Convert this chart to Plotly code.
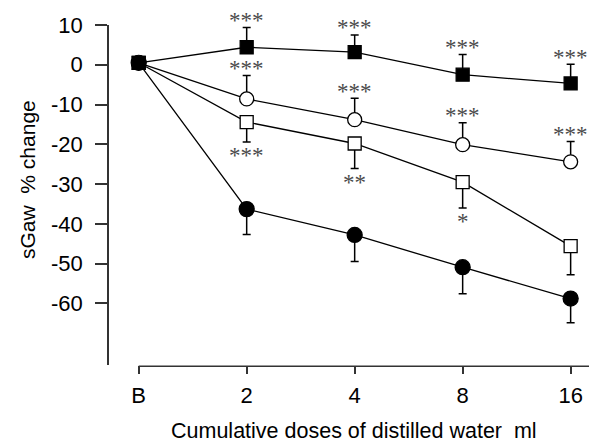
import plotly.graph_objects as go

# ---- data ----
dose_labels = ["B", "2", "4", "8", "16"]
dose_pos = [0, 1, 2, 3, 4]

filled_sq = [0.5, 4.4, 3.2, -2.5, -4.7]
filled_sq_err = [0, 5.0, 4.3, 5.1, 4.8]          # upward
filled_sq_sig = ["", "***", "***", "***", "***"]

open_circ = [0.5, -8.6, -13.8, -20.1, -24.4]
open_circ_err = [0, 5.9, 5.4, 5.5, 5.1]          # upward
open_circ_sig = ["", "***", "***", "***", "***"]

open_sq = [0.5, -14.4, -19.8, -29.5, -45.6]
open_sq_err = [0, 5.0, 6.3, 6.5, 7.2]            # downward
open_sq_sig = ["", "***", "**", "*", ""]

filled_circ = [0.5, -36.3, -42.8, -50.9, -58.8]
filled_circ_err = [0, 6.4, 6.7, 6.7, 6.1]        # downward

y_ticks = [10, 0, -10, -20, -30, -40, -50, -60]
y_tick_text = ["10", "0", "-10", "-20", "-30", "-40", "-50", "-60"]

FONT = "Liberation Sans, Arial, Helvetica, sans-serif"
XMIN, XMAX = -0.275, 4.17

fig = go.Figure()

def add_series(y, err, up, symbol, size, fill):
    zeros = [0] * len(err)
    fig.add_trace(go.Scatter(
        x=dose_pos, y=y, mode="lines+markers", cliponaxis=False,
        line=dict(color="black", width=1.3),
        marker=dict(symbol=symbol, size=size, color=fill,
                    line=dict(color="black", width=1.3)),
        error_y=dict(type="data", symmetric=False,
                     array=err if up else zeros,
                     arrayminus=zeros if up else err,
                     color="black", thickness=1.5, width=4),
        showlegend=False,
    ))

add_series(filled_circ, filled_circ_err, False, "circle", 15, "black")
add_series(open_sq, open_sq_err, False, "square", 13, "white")
add_series(open_circ, open_circ_err, True, "circle", 14, "white")
add_series(filled_sq, filled_sq_err, True, "square", 13, "black")

annotations = []
def add_sig(y, err, sig, up):
    for xi, yi, ei, s in zip(dose_pos, y, err, sig):
        if not s:
            continue
        annotations.append(dict(
            x=xi, y=yi + ei if up else yi - ei, xref="x", yref="y",
            text=s, showarrow=False, yanchor="middle", xanchor="center",
            yshift=7 if up else -14,
            font=dict(family="Liberation Serif, Times New Roman, serif", size=23, color="#4a4a4a"),
        ))

add_sig(filled_sq, filled_sq_err, filled_sq_sig, True)
add_sig(open_circ, open_circ_err, open_circ_sig, True)
add_sig(open_sq, open_sq_err, open_sq_sig, False)

annotations.append(dict(
    text="sGaw  % change", xref="paper", yref="paper",
    x=(27 - 109) / 480, y=(365 - 180) / 340, textangle=-90,
    showarrow=False, xanchor="center", yanchor="middle",
    font=dict(family=FONT, size=21, color="black"),
))
annotations.append(dict(
    text="Cumulative doses of distilled water  ml", xref="paper", yref="paper",
    x=(354 - 109) / 480, y=(365 - 431) / 340,
    showarrow=False, xanchor="center", yanchor="middle",
    font=dict(family=FONT, size=21.5, color="black"),
))

fig.update_layout(
    width=589, height=445,
    margin=dict(l=109, r=0, t=25, b=80),
    paper_bgcolor="white", plot_bgcolor="white",
    font=dict(family=FONT, size=22, color="black"),
    annotations=annotations,
    shapes=[dict(type="line", xref="x", yref="paper", x0=0, x1=XMAX,
                 y0=-0.004, y1=-0.004, line=dict(color="#333", width=1.5))],
    xaxis=dict(range=[XMIN, XMAX], tickvals=dose_pos, ticktext=dose_labels,
               showline=False, showgrid=False, zeroline=False,
               ticks="outside", ticklen=8, tickwidth=1.5, tickcolor="#333",
               ticklabelstandoff=3),
    yaxis=dict(range=[-75.5, 10], tickvals=y_ticks, ticktext=y_tick_text,
               showline=True, linecolor="#333", linewidth=1.5,
               showgrid=False, zeroline=False,
               ticks="outside", ticklen=12, tickwidth=1.5, tickcolor="#333",
               ticklabelstandoff=8),
)

fig.write_html("out.html")
